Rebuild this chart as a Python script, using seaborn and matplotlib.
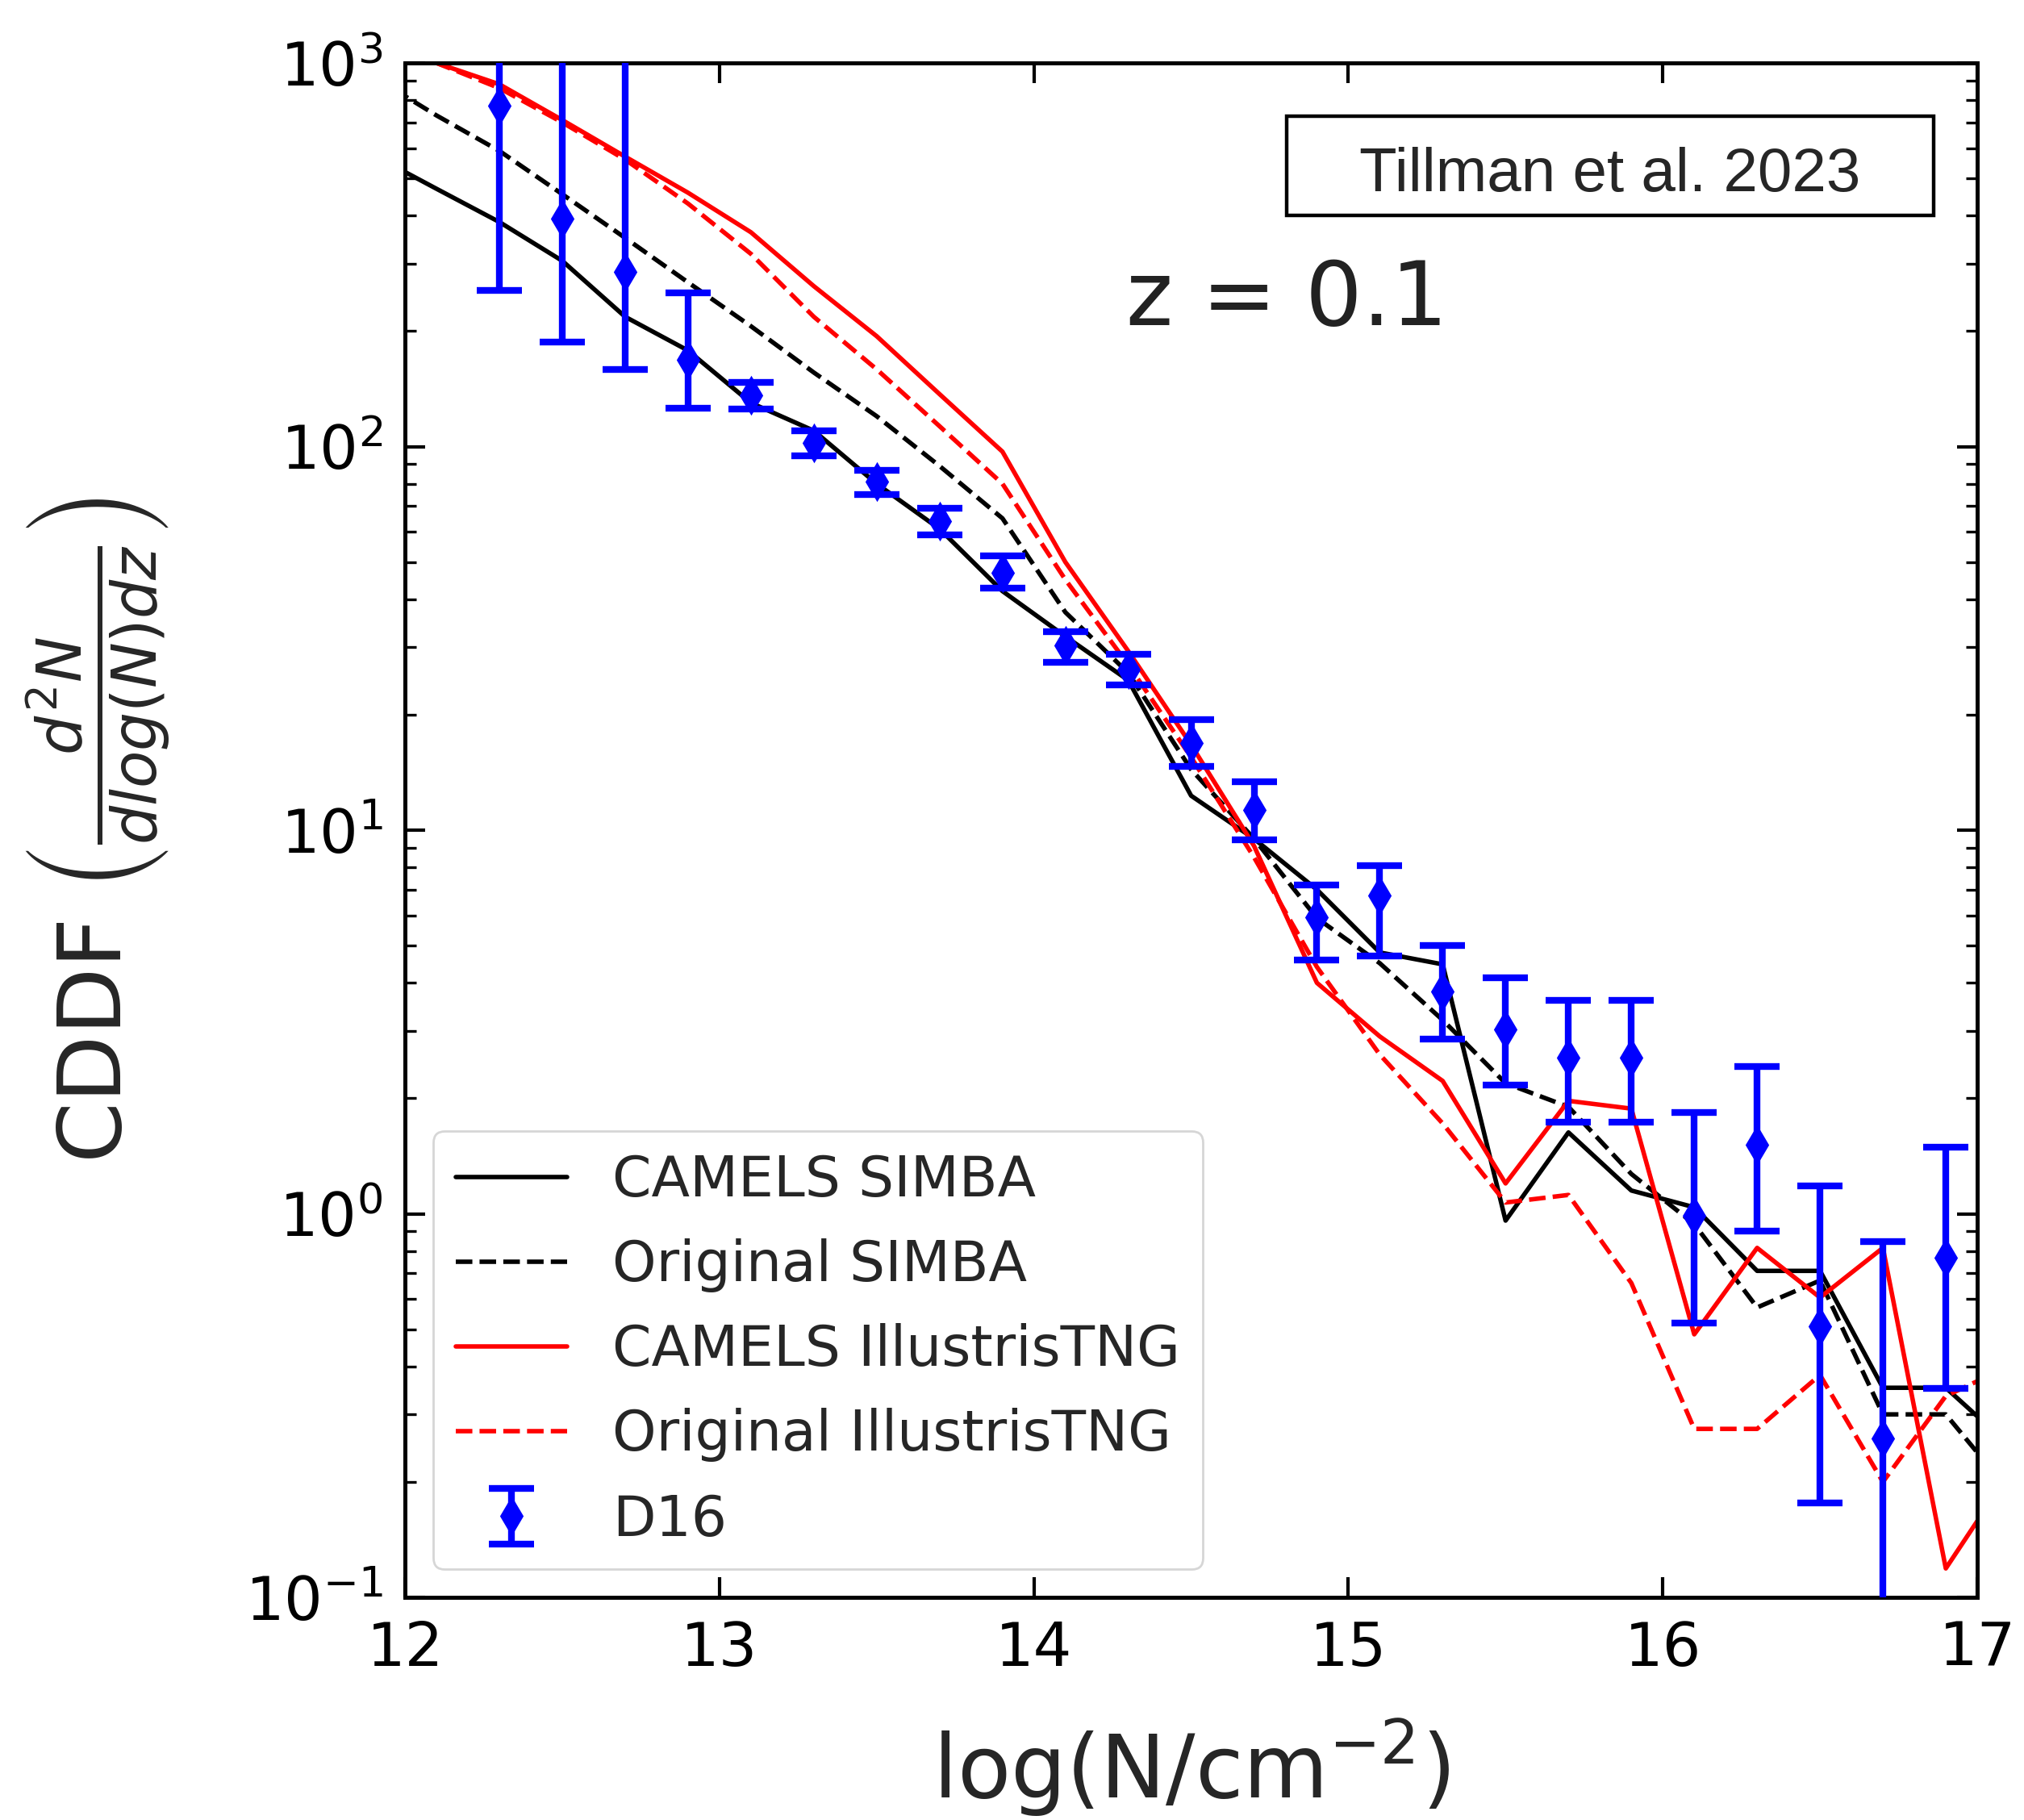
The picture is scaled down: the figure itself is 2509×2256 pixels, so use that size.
import matplotlib
matplotlib.use('Agg')
import matplotlib.pyplot as plt
import seaborn as sns
from matplotlib.patches import Rectangle

# model curves, sampled on the same 0.2 dex grid as the data
model_x = [11.9, 12.1, 12.3, 12.5, 12.7, 12.9, 13.1, 13.3, 13.5, 13.7, 13.9, 14.1, 14.3, 14.5,
           14.7, 14.9, 15.1, 15.3, 15.5, 15.7, 15.9, 16.1, 16.3, 16.5, 16.7, 16.9, 17.1]
camels_simba = [575, 470, 385, 305, 218, 178, 130, 110, 80, 61, 42, 32, 24.6, 12.3,
                9.5, 7.0, 4.8, 4.47, 0.96, 1.63, 1.15, 1.04, 0.71, 0.71, 0.352, 0.352, 0.25]
orig_simba = [920, 730, 590, 455, 350, 268, 206, 156, 120, 89, 65, 37, 25.7, 14.4,
              9.5, 5.9, 4.5, 3.2, 2.19, 1.9, 1.27, 0.94, 0.57, 0.67, 0.30, 0.30, 0.19]
camels_tng = [1250, 1000, 880, 710, 570, 459, 362, 262, 194, 137, 97, 50, 29.3, 16.7,
              9.1, 4.0, 2.9, 2.22, 1.2, 1.97, 1.88, 0.485, 0.815, 0.605, 0.815, 0.119, 0.21]
orig_tng = [1250, 1000, 860, 700, 560, 430, 318, 218, 159, 113, 80, 45, 27, 15.5,
            8.5, 4.4, 2.6, 1.72, 1.07, 1.12, 0.66, 0.275, 0.275, 0.38, 0.20, 0.335, 0.4]

# D16 observations
d16_x = [12.3, 12.5, 12.7, 12.9, 13.1, 13.3, 13.5, 13.7, 13.9, 14.1, 14.3, 14.5,
         14.7, 14.9, 15.1, 15.3, 15.5, 15.7, 15.9, 16.1, 16.3, 16.5, 16.7, 16.9]
d16_y = [774, 392, 286, 168, 136, 102, 81, 64, 46.8, 30.3, 26.2, 16.9,
         11.3, 5.93, 6.76, 3.79, 3.03, 2.55, 2.55, 0.99, 1.51, 0.51, 0.26, 0.77]
d16_hi = [2500, 2500, 2500, 252, 147, 110, 86.9, 68.9, 51.8, 33.0, 28.7, 19.4,
          13.4, 7.19, 8.09, 5.0, 4.12, 3.6, 3.6, 1.84, 2.42, 1.18, 0.845, 1.49]
d16_lo = [255, 187, 159, 126, 125, 94.7, 75, 59, 42.7, 27.4, 23.9, 14.7,
          9.44, 4.59, 4.71, 2.85, 2.17, 1.73, 1.73, 0.52, 0.90, 0.176, 0.05, 0.35]

sns.set_style('ticks')
plt.rcParams['font.family'] = ['DejaVu Sans']
plt.rcParams['mathtext.fontset'] = 'dejavusans'

fig = plt.figure(figsize=(12.545, 11.28), dpi=200)
ax = fig.add_axes([0.2001, 0.1223, 0.7768, 0.8431])

series = [('CAMELS SIMBA', camels_simba, 'black', '-'),
          ('Original SIMBA', orig_simba, 'black', '--'),
          ('CAMELS IllustrisTNG', camels_tng, 'red', '-'),
          ('Original IllustrisTNG', orig_tng, 'red', '--')]
for name, vals, col, ls in series:
    sns.lineplot(x=model_x, y=vals, color=col, linestyle=ls, lw=2.0, label=name, ax=ax)

yerr = [[y - lo for y, lo in zip(d16_y, d16_lo)], [hi - y for y, hi in zip(d16_y, d16_hi)]]
ax.errorbar(d16_x, d16_y, yerr=yerr, fmt='d', color='blue', ms=11,
            elinewidth=3, capsize=10, capthick=3, label='D16', zorder=3)

ax.set_yscale('log')
ax.set_xlim(12, 17)
ax.set_ylim(0.1, 1000)

ax.tick_params(which='both', direction='in', top=True, right=True, colors='black')
ax.tick_params(which='major', length=9, width=1.5, pad=10, labelsize=27)
ax.tick_params(which='minor', length=5, width=1.2)
for s in ax.spines.values():
    s.set_linewidth(1.8)
    s.set_color('black')

ax.set_xlabel(r'log(N/cm$^{-2}$)', fontsize=39)
ax.set_ylabel(r'CDDF $\left(\frac{d^2N}{dlog(N)dz}\right)$', fontsize=39)
ax.xaxis.set_label_coords(0.5, -0.078)
ax.yaxis.set_label_coords(-0.148, 0.5)

ax.legend(loc='lower left', fontsize=25, frameon=True, fancybox=True,
          framealpha=0.8, edgecolor='0.8', labelspacing=0.55)

ax.text(0.561, 0.829, 'z = 0.1', transform=ax.transAxes, ha='center',
        va='baseline', fontsize=40, color='#222222')

fig.add_artist(Rectangle((0.6357, 0.8816), 0.3196, 0.0545, transform=fig.transFigure,
                         facecolor='white', edgecolor='black', lw=1.6, zorder=5))
fig.text(0.7955, 0.8951, 'Tillman et al. 2023', ha='center', va='baseline',
         fontsize=27.5, family=['Liberation Sans', 'DejaVu Sans'], zorder=6)

fig.savefig('out.png', dpi=200)
